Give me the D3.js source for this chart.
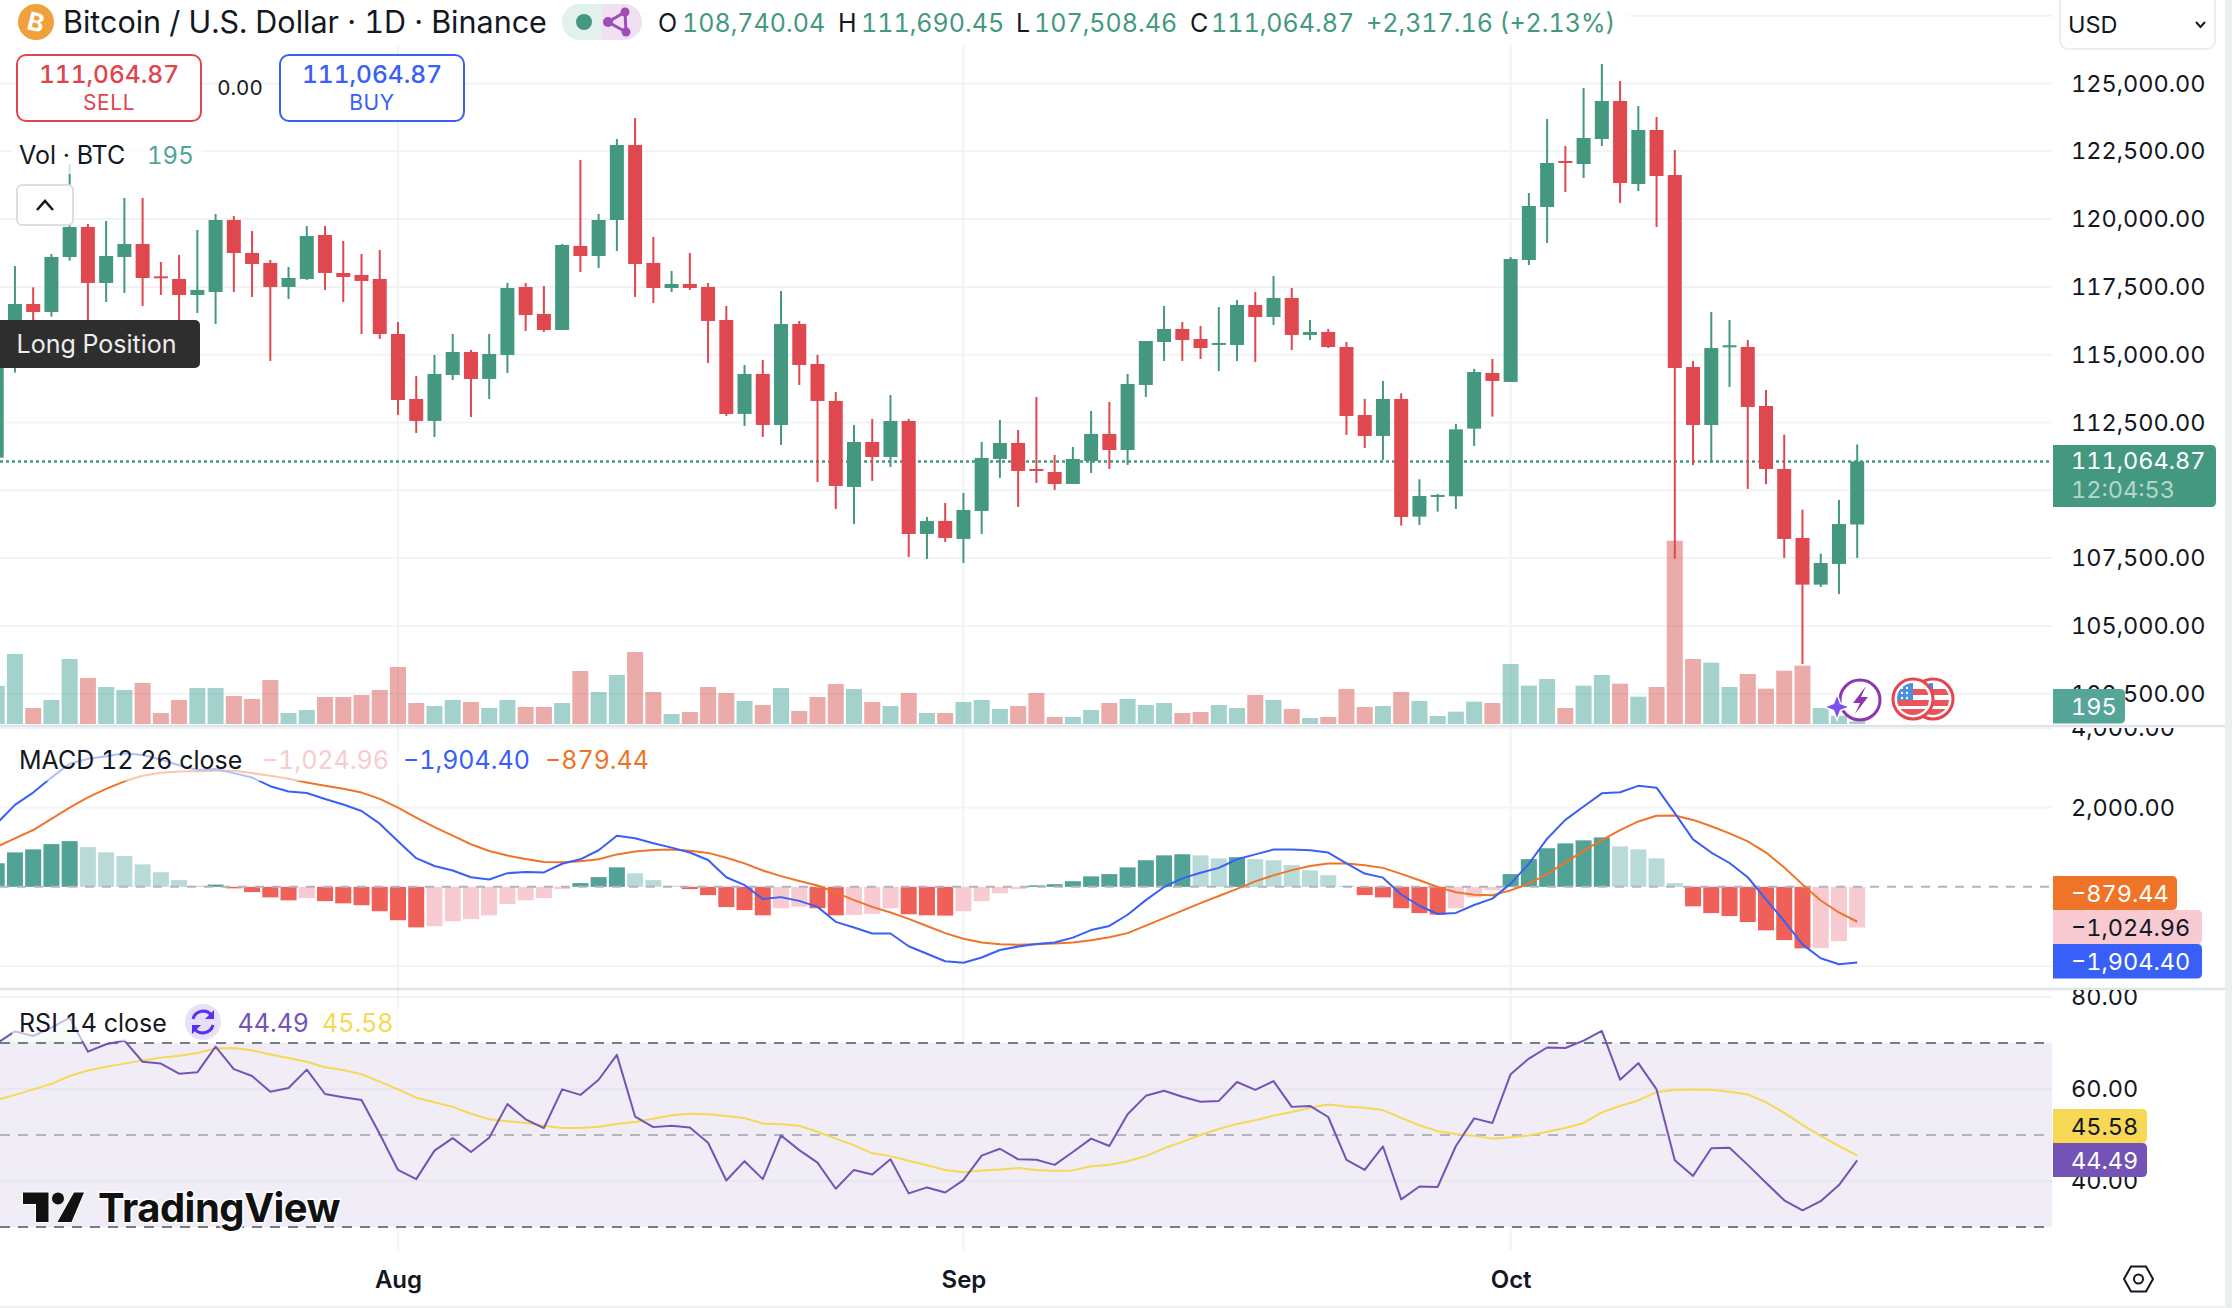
<!DOCTYPE html>
<html>
<head>
<meta charset="utf-8">
<script src="https://cdn.jsdelivr.net/npm/d3@7"></script>
<style>
  html, body { margin: 0; padding: 0; background: #fff; }
  svg { display: block; }
  text { font-family: Inter, "Noto Sans", sans-serif; font-variant-numeric: tabular-nums; }
</style>
</head>
<body>
<script>
// daily candles Jul 10 - Oct 20 2025
const firstDay = new Date(2025, 6, 10);

const opens = [
  111205, 115789, 116871, 116576, 118603, 119710, 117645, 118603, 119083, 117891,
  117792, 117202, 117313, 119968, 118751, 118382, 117497, 117792, 119415, 118014,
  117940, 117792, 115764, 113368, 112557, 114253, 115101, 114105, 114990, 117497,
  116502, 115912, 119009, 118640, 119968, 122733, 118382, 117460, 117608, 117497,
  116281, 112815, 114290, 112409, 116133, 114658, 113294, 110123, 111782, 111229,
  112557, 108390, 108870, 108206, 109238, 111156, 111746, 110787, 110676, 110234,
  111082, 112078, 111487, 113884, 115469, 115949, 115580, 115396, 115359, 116834,
  116391, 117092, 115728, 115838, 115285, 112778, 112004, 113368, 109029, 109804,
  109779, 112274, 114326, 113995, 118493, 120447, 122143, 122032, 122954, 124355,
  121295, 123286, 121627, 114548, 112409, 115297, 115285, 113110, 110787, 108243,
  106522, 107284, 108740.04
];
const highs = [
  115912, 118272, 117485, 118714, 122032, 119820, 119931, 120779, 120779, 118419,
  118677, 119599, 120189, 120115, 119562, 118493, 118235, 119746, 119746, 119193,
  118714, 118861, 116207, 114216, 114990, 115764, 115174, 115764, 117645, 117645,
  117534, 119083, 122180, 120189, 122954, 123728, 119341, 118087, 118751, 117645,
  116797, 114621, 114806, 117350, 116244, 114990, 113626, 112409, 112630, 113515,
  112630, 109017, 109533, 109902, 111782, 112594, 112225, 113442, 111303, 111598,
  112925, 113257, 114290, 115506, 116797, 116207, 116059, 116760, 117018, 117313,
  117903, 117460, 116281, 115949, 115469, 113368, 114032, 113577, 110406, 109865,
  112446, 114474, 114843, 118603, 120963, 123691, 122696, 124834, 125719, 125093,
  124171, 123765, 122548, 114769, 116576, 116281, 115543, 113700, 112053, 109288,
  107665, 109644, 111690.45
];
const lows = [
  111205, 114339, 115912, 116403, 118468, 115973, 116944, 117276, 116797, 117202,
  116035, 116539, 116133, 117313, 117129, 114769, 117055, 117755, 117387, 116944,
  115764, 115580, 112778, 112114, 111967, 114068, 112704, 113368, 114326, 115875,
  115838, 115912, 118050, 118198, 118825, 117129, 116907, 117313, 117387, 114695,
  112741, 112372, 111967, 111672, 113884, 110308, 109312, 108759, 110345, 110861,
  107542, 107469, 108095, 107321, 108390, 110455, 109386, 110271, 110013, 110234,
  110639, 110787, 110934, 113442, 114769, 114769, 114843, 114400, 114769, 114732,
  116096, 115174, 115543, 115248, 112041, 111561, 111119, 108698, 108722, 109214,
  109312, 111635, 112716, 113995, 118308, 119120, 121000, 121516, 122696, 120594,
  121037, 119710, 107481, 110934, 111008, 113810, 110050, 110222, 107506, 103597,
  106436, 106178, 107508.46
];
const closes = [
  115789, 116871, 116576, 118603, 119710, 117645, 118640, 119083, 117829, 117841,
  117202, 117387, 119968, 118751, 118345, 117497, 117829, 119378, 118014, 117866,
  117719, 115764, 113331, 112557, 114290, 115101, 114105, 115027, 117460, 116465,
  115912, 119046, 118640, 119968, 122733, 118345, 117460, 117608, 117460, 116244,
  112815, 114290, 112409, 116133, 114621, 113294, 110160, 111782, 111229, 112557,
  108390, 108870, 108243, 109275, 111193, 111746, 110713, 110713, 110234, 111156,
  112078, 111487, 113921, 115506, 115949, 115543, 115248, 115433, 116834, 116391,
  117092, 115728, 115838, 115285, 112741, 112004, 113368, 109017, 109791, 109828,
  112249, 114363, 114032, 118530, 120484, 122069, 122069, 122991, 124355, 121332,
  123286, 121590, 114511, 112409, 115248, 115347, 113073, 110787, 108206, 106522,
  107321, 108759, 111064.87
];
const volumes = [
  2850, 5250, 1200, 1800, 4875, 3450, 2775, 2550, 3075, 825,
  1800, 2700, 2700, 2100, 1875, 3300, 825, 1050, 2025, 2025,
  2175, 2550, 4275, 1575, 1350, 1800, 1650, 1200, 1800, 1275,
  1275, 1575, 3975, 2400, 3675, 5400, 2400, 750, 900, 2775,
  2325, 1725, 1425, 2700, 975, 2025, 3000, 2625, 1650, 1350,
  2325, 825, 825, 1650, 1800, 1125, 1350, 2325, 525, 525,
  1050, 1575, 1875, 1425, 1575, 825, 900, 1425, 1200, 2175,
  1800, 1125, 450, 525, 2625, 1275, 1350, 2400, 1725, 600,
  925, 1675, 1575, 4500, 2875, 3375, 1200, 2875, 3675, 3025,
  2050, 2775, 13750, 4875, 4600, 2775, 3750, 2650, 4000, 4375,
  1200, 625, 195
];
const macdHist = [
  595, 869, 945, 1077, 1153, 1002, 869, 775, 567, 369,
  170, 28, 57, -38, -132, -265, -340, -284, -359, -416,
  -463, -614, -841, -1021, -992, -869, -813, -718, -435, -340,
  -284, -57, 95, 246, 491, 340, 170, 28, -57, -208,
  -510, -586, -718, -539, -501, -539, -718, -710, -680, -539,
  -690, -718, -725, -614, -359, -161, -57, 38, 66, 142,
  265, 321, 491, 671, 794, 822, 794, 718, 747, 699,
  671, 548, 416, 293, 28, -208, -265, -539, -662, -699,
  -539, -265, -85, 321, 699, 973, 1096, 1172, 1247, 1021,
  945, 718, 95, -491, -662, -737, -888, -1096, -1342, -1550,
  -1545, -1370, -1024.96
];
const macdLine = [
  1592, 2065, 2376, 2754, 3103, 3226, 3292, 3368, 3321, 3207,
  3066, 2943, 2971, 2867, 2754, 2537, 2405, 2367, 2216, 2074,
  1913, 1592, 1148, 723, 525, 412, 242, 185, 345, 374,
  364, 582, 695, 922, 1290, 1224, 1101, 988, 865, 676,
  242, 43, -306, -259, -353, -505, -882, -1024, -1175, -1175,
  -1496, -1685, -1874, -1912, -1780, -1591, -1506, -1440, -1402, -1279,
  -1090, -986, -703, -334, -4, 213, 355, 478, 695, 818,
  941, 941, 922, 865, 591, 336, 232, -193, -476, -684,
  -656, -457, -297, 81, 582, 1214, 1687, 2027, 2357, 2386,
  2546, 2499, 1857, 1196, 865, 601, 242, -316, -863, -1449,
  -1798, -1950, -1904.40
];
const signalLine = [
  1007, 1224, 1432, 1715, 1998, 2253, 2471, 2660, 2801, 2877,
  2905, 2915, 2924, 2924, 2867, 2801, 2726, 2631, 2546, 2471,
  2376, 2216, 1998, 1743, 1507, 1290, 1073, 903, 789, 704,
  629, 620, 648, 695, 818, 893, 931, 941, 912, 856,
  733, 591, 412, 270, 147, 34, -146, -334, -505, -646,
  -807, -986, -1166, -1307, -1402, -1449, -1458, -1449, -1430, -1402,
  -1345, -1269, -1166, -977, -788, -599, -410, -231, -51, 138,
  289, 421, 525, 591, 591, 544, 478, 327, 166, -4,
  -136, -202, -212, -89, 81, 327, 610, 912, 1177, 1432,
  1649, 1791, 1800, 1687, 1526, 1347, 1148, 865, 487, 62,
  -344, -646, -879.44
];
const rsiLine = [
  69.9, 72.5, 71.5, 73.3, 75.5, 68.1, 69.7, 70.5, 65.9, 65.5,
  63.3, 63.6, 69.2, 64.3, 62.8, 59.4, 60.2, 64.2, 58.9, 58.2,
  57.6, 50.2, 42.4, 40.4, 46.6, 49.3, 46.3, 49.4, 56.7, 53.4,
  51.5, 59.9, 58.7, 62.0, 67.4, 54.0, 51.7, 52.0, 51.6, 48.3,
  40.1, 44.3, 40.4, 49.9, 46.7, 44.0, 38.3, 42.4, 41.4, 44.7,
  37.3, 38.6, 37.5, 40.2, 45.5, 47.0, 44.7, 44.6, 43.5, 46.3,
  49.2, 47.6, 54.5, 58.5, 59.6, 58.3, 57.2, 57.4, 61.5, 59.8,
  61.7, 56.1, 56.3, 53.9, 44.6, 42.4, 47.5, 36.0, 38.8, 38.7,
  47.6, 53.6, 52.6, 63.2, 66.6, 69.0, 68.9, 70.5, 72.6, 62.0,
  65.6, 59.9, 44.5, 41.1, 47.1, 47.2, 43.5, 39.6, 35.8, 33.6,
  35.6, 39.1, 44.49
];
const rsiAverage = [
  57.6, 58.7, 59.9, 61.1, 62.8, 64.0, 64.8, 65.5, 66.2, 66.8,
  67.2, 67.8, 68.8, 68.9, 68.4, 67.5, 66.7, 65.9, 64.7, 64.1,
  63.2, 61.6, 59.9, 58.1, 57.1, 56.1, 54.6, 53.4, 53.0, 52.6,
  52.0, 51.5, 51.5, 51.8, 52.4, 52.8, 53.5, 54.3, 54.6, 54.5,
  54.1, 53.7, 52.5, 52.3, 52.0, 50.7, 49.2, 47.8, 46.0, 45.4,
  44.4, 43.4, 42.4, 41.9, 42.3, 42.5, 42.8, 42.4, 42.2, 42.3,
  43.2, 43.5, 44.3, 45.4, 47.1, 48.5, 50.0, 51.3, 52.4, 53.2,
  54.2, 55.0, 55.9, 56.6, 56.2, 55.9, 55.4, 53.7, 52.1, 50.8,
  50.2, 49.8, 49.2, 49.5, 49.9, 50.7, 51.5, 52.6, 54.9, 56.3,
  57.5, 59.3, 59.8, 59.9, 59.8, 59.4, 58.8, 57.1, 54.8, 52.2,
  49.8, 47.6, 45.58
];

const priceTicks = [125000, 122500, 120000, 117500, 115000, 112500, 110000, 107500, 105000, 102500];
const macdTicks = [4000, 2000, -2000];
const rsiTicks = [80, 60, 40];
const monthTicks = [new Date(2025, 7, 1), new Date(2025, 8, 1), new Date(2025, 9, 1)];

const GREEN = "#459880", RED = "#E04850", INK = "#131722", GRID = "#F2F3F4";
const BLUE = "#3860F8", ORANGE = "#F07428", PURPLE = "#7353B5", YELLOW = "#F7D854";
const paneRight = 2052;
const TEXT_SIZE = 25;
const AXIS_SIZE = 23.5;

const days = opens.map((d, i) => d3.timeDay.offset(firstDay, i));
const lastClose = closes[closes.length - 1];

const x = d3.scaleTime()
  .domain([firstDay, days[days.length - 1]])
  .range([-3.3, 1857.2]);
const yPrice = d3.scaleLinear().domain([125000, 102500]).range([83.5, 693.7]);
const yVol = d3.scaleLinear().domain([0, 13750]).range([724, 540.7]);
const yMacd = d3.scaleLinear().domain([2000, -2000]).range([807.5, 966.2]);
const yRsi = d3.scaleLinear().domain([70, 30]).range([1042.9, 1227]);

const svg = d3.select("body").append("svg").attr("width", 2232).attr("height", 1308);
const defs = svg.append("defs");

function addClip(id, x0, y0, w, h) {
  defs.append("clipPath").attr("id", id).append("rect")
    .attr("x", x0).attr("y", y0).attr("width", w).attr("height", h);
}
addClip("pricePane", 0, 0, paneRight, 725);
addClip("macdPane", 0, 728, paneRight, 260);
addClip("rsiPane", 0, 990, paneRight, 262);
addClip("rsiAbove", 0, 990, paneRight, 52.9);
addClip("priceAxis", paneRight, 50, 175, 675);
addClip("macdAxis", paneRight, 728, 175, 260);
addClip("rsiAxis", paneRight, 990, 175, 262);

// month gridlines run through all panes
svg.append("g").selectAll("line").data(monthTicks).join("line")
  .attr("x1", d => x(d)).attr("x2", d => x(d))
  .attr("y1", 0).attr("y2", 1250)
  .attr("stroke", GRID).attr("stroke-width", 2);

function hGrid(values, scale) {
  svg.append("g").selectAll("line").data(values).join("line")
    .attr("x1", 0).attr("x2", paneRight)
    .attr("y1", d => scale(d)).attr("y2", d => scale(d))
    .attr("stroke", GRID).attr("stroke-width", 2);
}
hGrid(priceTicks.concat([127500]), yPrice);
hGrid(macdTicks, yMacd);

// rsi band goes under its gridlines
svg.append("rect")
  .attr("x", 0).attr("width", paneRight)
  .attr("y", yRsi(70)).attr("height", yRsi(30) - yRsi(70))
  .attr("fill", "#F0EDF7");
svg.append("g").selectAll("line").data(rsiTicks).join("line")
  .attr("x1", 0).attr("x2", paneRight)
  .attr("y1", d => yRsi(d)).attr("y2", d => yRsi(d))
  .attr("stroke", d => d === 80 ? GRID : "#E8E6EF").attr("stroke-width", 2);

// volume
svg.append("g").attr("clip-path", "url(#pricePane)")
  .selectAll("rect").data(volumes).join("rect")
  .attr("x", (d, i) => x(days[i]) - 8)
  .attr("width", 16)
  .attr("y", d => yVol(d))
  .attr("height", d => yVol(0) - yVol(d))
  .attr("fill", (d, i) => closes[i] >= opens[i] ? "#47A59B" : "#D75751")
  .attr("fill-opacity", 0.5);

// last price line
svg.append("line")
  .attr("x1", 0).attr("x2", paneRight)
  .attr("y1", yPrice(lastClose)).attr("y2", yPrice(lastClose))
  .attr("stroke", GREEN).attr("stroke-width", 2.5).attr("stroke-dasharray", "3 3");

// candles
const candles = svg.append("g").attr("clip-path", "url(#pricePane)")
  .selectAll("g").data(days).join("g")
  .attr("fill", (d, i) => closes[i] >= opens[i] ? GREEN : RED);
candles.append("rect")
  .attr("x", d => x(d) - 1).attr("width", 2)
  .attr("y", (d, i) => yPrice(highs[i]))
  .attr("height", (d, i) => yPrice(lows[i]) - yPrice(highs[i]));
candles.append("rect")
  .attr("x", d => x(d) - 7).attr("width", 14)
  .attr("y", (d, i) => yPrice(Math.max(opens[i], closes[i])))
  .attr("height", (d, i) => Math.max(2, Math.abs(yPrice(opens[i]) - yPrice(closes[i]))));

// macd pane
const macdG = svg.append("g").attr("clip-path", "url(#macdPane)");
macdG.append("g").selectAll("rect").data(macdHist).join("rect")
  .attr("x", (d, i) => x(days[i]) - 8)
  .attr("width", 16)
  .attr("y", d => Math.min(yMacd(d), yMacd(0)))
  .attr("height", d => Math.abs(yMacd(d) - yMacd(0)))
  .attr("fill", (d, i) => {
    const prev = i ? macdHist[i - 1] : 0;
    if (d >= 0) return d > prev ? "#52A297" : "#B9DBD8";
    return d < prev ? "#EE6058" : "#F7CBD1";
  });
macdG.append("line")
  .attr("x1", 0).attr("x2", paneRight)
  .attr("y1", yMacd(0)).attr("y2", yMacd(0))
  .attr("stroke", "#B2B5BE").attr("stroke-width", 2).attr("stroke-dasharray", "9 8");

function drawLine(parent, values, scale, color) {
  const line = d3.line().x((d, i) => x(days[i])).y(d => scale(d));
  parent.append("path").attr("d", line(values))
    .attr("fill", "none").attr("stroke", color).attr("stroke-width", 2)
    .attr("stroke-linejoin", "round");
}
drawLine(macdG, signalLine, yMacd, ORANGE);
drawLine(macdG, macdLine, yMacd, BLUE);

// rsi pane
const rsiG = svg.append("g").attr("clip-path", "url(#rsiPane)");
[[70, "#787B86"], [50, "#B2B5BE"], [30, "#787B86"]].forEach(([level, color]) => {
  rsiG.append("line")
    .attr("x1", 0).attr("x2", paneRight)
    .attr("y1", yRsi(level)).attr("y2", yRsi(level))
    .attr("stroke", color).attr("stroke-width", 2).attr("stroke-dasharray", "10 8");
});
const overbought = d3.area()
  .x((d, i) => x(days[i]))
  .y0(yRsi(70))
  .y1(d => yRsi(d));
rsiG.append("path").attr("d", overbought(rsiLine))
  .attr("clip-path", "url(#rsiAbove)")
  .attr("fill", "#4CAF50").attr("fill-opacity", 0.1);
drawLine(rsiG, rsiAverage, yRsi, YELLOW);
drawLine(rsiG, rsiLine, yRsi, PURPLE);

// pane separators and page edges
[726, 989].forEach(y => {
  svg.append("rect").attr("x", 0).attr("y", y - 1.2).attr("width", 2225).attr("height", 2.4).attr("fill", "#E0E3EB");
});
svg.append("rect").attr("x", 2225).attr("y", 0).attr("width", 7).attr("height", 1308).attr("fill", "#EDEEF0");
svg.append("rect").attr("x", 0).attr("y", 1306).attr("width", 2232).attr("height", 2).attr("fill", "#EDEEF0");

// axes
function rightAxis(scale, ticks, clip, fmt) {
  const g = svg.append("g").attr("clip-path", `url(#${clip})`).append("g")
    .attr("transform", `translate(2071,0)`)
    .call(d3.axisRight(scale).tickValues(ticks).tickSize(0).tickPadding(0).tickFormat(fmt));
  g.select(".domain").remove();
  g.selectAll("text").attr("fill", INK).style("font-size", AXIS_SIZE + "px").style("font-family", "Inter");
}
rightAxis(yPrice, priceTicks, "priceAxis", d3.format(",.2f"));
rightAxis(yMacd, macdTicks, "macdAxis", d3.format(",.2f"));
rightAxis(yRsi, rsiTicks, "rsiAxis", d3.format(".2f"));

const timeAxis = svg.append("g").attr("transform", "translate(0,1271)")
  .call(d3.axisBottom(x).tickValues(monthTicks).tickSize(0).tickPadding(0).tickFormat(d3.timeFormat("%b")));
timeAxis.select(".domain").remove();
timeAxis.selectAll("text").attr("fill", INK).style("font-size", "24px").style("font-weight", 600).style("font-family", "Inter");

// helpers for the overlay text
function label(text, xPos, y, size, color, opts = {}) {
  return svg.append("text").text(text)
    .attr("x", xPos).attr("y", y)
    .attr("fill", color)
    .attr("text-anchor", opts.anchor || "start")
    .attr("font-weight", opts.weight || 400)
    .style("font-size", size + "px");
}
function priceTag(y0, y1, w, fill) {
  const x0 = 2053, x1 = x0 + w, r = 5;
  svg.append("path")
    .attr("d", `M${x0},${y0}H${x1 - r}Q${x1},${y0} ${x1},${y0 + r}V${y1 - r}Q${x1},${y1} ${x1 - r},${y1}H${x0}Z`)
    .attr("fill", fill);
}

// price scale tags
priceTag(445, 507, 163, GREEN);
label("111,064.87", 2071, 469, AXIS_SIZE, "#fff");
label("12:04:53", 2071, 498, AXIS_SIZE, "rgba(255,255,255,0.6)");
priceTag(689, 723.5, 72, "#55A699");
label("195", 2071, 715, AXIS_SIZE, "#fff");
priceTag(876, 910, 124, ORANGE);
label("−879.44", 2071, 902, AXIS_SIZE, "#fff");
priceTag(910, 944, 149, "#F7CBD1");
label("−1,024.96", 2071, 936, AXIS_SIZE, INK);
priceTag(944, 978.5, 149, BLUE);
label("−1,904.40", 2071, 970, AXIS_SIZE, "#fff");
priceTag(1109, 1143, 94, YELLOW);
label("45.58", 2071, 1135, AXIS_SIZE, INK);
priceTag(1143, 1177, 94, PURPLE);
label("44.49", 2071, 1169, AXIS_SIZE, "#fff");

// header band
svg.append("rect").attr("x", 0).attr("y", 0).attr("width", 1630).attr("height", 46)
  .attr("fill", "#fff").attr("fill-opacity", 0.8);
svg.append("circle").attr("cx", 36).attr("cy", 22).attr("r", 18).attr("fill", "#F0A03C");
label("B", 36, 31, 25, "#fff", { anchor: "middle", weight: 700 })
  .attr("transform", "rotate(14 36 22)");
label("Bitcoin / U.S. Dollar · 1D · Binance", 63, 33, 30.5, INK);

svg.append("path").attr("d", "M602,4H580a18,18 0 0 0 0,36H602Z").attr("fill", "#E2F1EC");
svg.append("path").attr("d", "M602,4H624a18,18 0 0 1 0,36H602Z").attr("fill", "#F0E0F2");
svg.append("circle").attr("cx", 584).attr("cy", 22).attr("r", 8).attr("fill", GREEN);
svg.append("path").attr("d", "M608,22L625,12L626,32Z").attr("fill", "none").attr("stroke", "#9C4DB8").attr("stroke-width", 3);
[[608, 22, 5], [625, 12, 4.5], [626, 32, 4.5]].forEach(n => {
  svg.append("circle").attr("cx", n[0]).attr("cy", n[1]).attr("r", n[2]).attr("fill", "#9C4DB8");
});

const ohlcText = [
  ["O", 658, INK], ["108,740.04", 682, GREEN],
  ["H", 838, INK], ["111,690.45", 861, GREEN],
  ["L", 1016, INK], ["107,508.46", 1034, GREEN],
  ["C", 1190, INK], ["111,064.87", 1211, GREEN],
  ["+2,317.16 (+2.13%)", 1366, GREEN]
];
ohlcText.forEach(t => label(t[0], t[1], 32, TEXT_SIZE, t[2]));

// currency select
svg.append("rect").attr("x", 2060).attr("y", -6).attr("width", 155).attr("height", 55).attr("rx", 8)
  .attr("fill", "#fff").attr("stroke", "#ECEDEF").attr("stroke-width", 2);
label("USD", 2068, 33, AXIS_SIZE, INK);
svg.append("path").attr("d", "M2196,22L2200.5,27L2205,22").attr("fill", "none").attr("stroke", INK).attr("stroke-width", 2);

// sell / buy
function tradeButton(x0, color, word, price) {
  svg.append("rect").attr("x", x0).attr("y", 55).attr("width", 184).attr("height", 66).attr("rx", 9)
    .attr("fill", "#fff").attr("stroke", color).attr("stroke-width", 2);
  label(price, x0 + 92, 83, 24.5, color, { anchor: "middle", weight: 500 });
  label(word, x0 + 92, 110, 21, color, { anchor: "middle" }).style("letter-spacing", "0.6px");
}
tradeButton(17, "#E0454D", "SELL", "111,064.87");
tradeButton(280, BLUE, "BUY", "111,064.87");
label("0.00", 240, 95, 20.5, INK, { anchor: "middle" });

// volume legend and collapse button
svg.append("rect").attr("x", 12).attr("y", 138).attr("width", 190).attr("height", 36)
  .attr("fill", "#fff").attr("fill-opacity", 0.75);
label("Vol · BTC", 19, 164, TEXT_SIZE, INK);
label("195", 147, 164, 24, "#4FA597");
svg.append("rect").attr("x", 17).attr("y", 185).attr("width", 56).attr("height", 40).attr("rx", 5)
  .attr("fill", "#fff").attr("stroke", "#DDDEE0").attr("stroke-width", 2);
svg.append("path").attr("d", "M37,210L45,201L53,210").attr("fill", "none").attr("stroke", INK).attr("stroke-width", 2.5);

// tooltip
svg.append("rect").attr("x", -6).attr("y", 320).attr("width", 206).attr("height", 48).attr("rx", 5).attr("fill", "#2E2E2E");
label("Long Position", 16.5, 353, TEXT_SIZE, "#EDEDED");

// macd legend
svg.append("rect").attr("x", 12).attr("y", 749).attr("width", 640).attr("height", 32)
  .attr("fill", "#fff").attr("fill-opacity", 0.6);
label("MACD 12 26 close", 19, 769, TEXT_SIZE, INK);
label("−1,024.96", 262, 769, TEXT_SIZE, "#F7CBD1");
label("−1,904.40", 403, 769, TEXT_SIZE, BLUE);
label("−879.44", 545, 769, TEXT_SIZE, ORANGE);

// rsi legend
svg.append("rect").attr("x", 12).attr("y", 1005).attr("width", 390).attr("height", 36)
  .attr("fill", "#fff").attr("fill-opacity", 0.6);
label("RSI 14 close", 19, 1032, TEXT_SIZE, INK);
svg.append("circle").attr("cx", 203).attr("cy", 1022).attr("r", 18).attr("fill", "#E6E0F8");
svg.append("path")
  .attr("d", "M193,1019A10.5,10.5 0 0 1 212,1016M213,1025A10.5,10.5 0 0 1 194,1028")
  .attr("fill", "none").attr("stroke", "#5B2EF0").attr("stroke-width", 3);
svg.append("path").attr("d", "M214,1010V1019H205ZM192,1034V1025H201Z").attr("fill", "#5B2EF0");
label("44.49", 237.5, 1032, TEXT_SIZE, PURPLE);
label("45.58", 322, 1032, TEXT_SIZE, YELLOW);

// watermark
svg.append("path")
  .attr("d", "M23,1192.5H48.5V1222H36V1204H23ZM74,1192.5H84L71.5,1222H57.5Z")
  .attr("fill", "#111").attr("stroke", "#fff").attr("stroke-width", 2).attr("paint-order", "stroke");
svg.append("circle").attr("cx", 58).attr("cy", 1198.5).attr("r", 6).attr("fill", "#111");
label("TradingView", 98, 1222, 40, "#111", { weight: 700 })
  .attr("stroke", "#fff").attr("stroke-width", 3).attr("paint-order", "stroke")
  .style("letter-spacing", "-0.5px");

// event badges on the last bars
svg.append("circle").attr("cx", 1860).attr("cy", 700).attr("r", 20).attr("fill", "#fff")
  .attr("stroke", "#8E35B0").attr("stroke-width", 3);
svg.append("path").attr("d", "M1866,686L1853,703H1860L1855,714L1868,697H1861Z").attr("fill", "#8E35B0");
svg.append("path").attr("d", "M1837,694L1840.5,703.5L1850,707L1840.5,710.5L1837,720L1833.5,710.5L1824,707L1833.5,703.5Z")
  .attr("fill", "#7B4FF5").attr("stroke", "#fff").attr("stroke-width", 1.5);

function flagBadge(cx, cy) {
  const id = "flag" + cx;
  defs.append("clipPath").attr("id", id).append("circle").attr("cx", cx).attr("cy", cy).attr("r", 16);
  svg.append("circle").attr("cx", cx).attr("cy", cy).attr("r", 20).attr("fill", "#fff")
    .attr("stroke", "#E5454F").attr("stroke-width", 3);
  const g = svg.append("g").attr("clip-path", `url(#${id})`);
  g.append("rect").attr("x", cx - 16).attr("y", cy - 16).attr("width", 32).attr("height", 32).attr("fill", "#fff");
  [-8, 3, 12].forEach(dy => {
    g.append("rect").attr("x", cx - 16).attr("y", cy + dy - 2).attr("width", 32).attr("height", 6).attr("fill", "#E8555C");
  });
  g.append("rect").attr("x", cx - 16).attr("y", cy - 16).attr("width", 16).attr("height", 17).attr("fill", "#4A8FE0");
  [[-11, -11], [-6, -11], [-11, -6], [-6, -6], [-11, -1], [-6, -1]].forEach(s => {
    g.append("circle").attr("cx", cx + s[0]).attr("cy", cy + s[1]).attr("r", 1.2).attr("fill", "#fff");
  });
}
flagBadge(1933, 699);
flagBadge(1913, 699);

// settings hexagon
svg.append("path").attr("d", "M2124,1279L2131,1266.5H2146L2153,1279L2146,1291.5H2131Z")
  .attr("fill", "none").attr("stroke", INK).attr("stroke-width", 2);
svg.append("circle").attr("cx", 2138.5).attr("cy", 1279).attr("r", 4.5)
  .attr("fill", "none").attr("stroke", INK).attr("stroke-width", 2);
</script>
</body>
</html>
